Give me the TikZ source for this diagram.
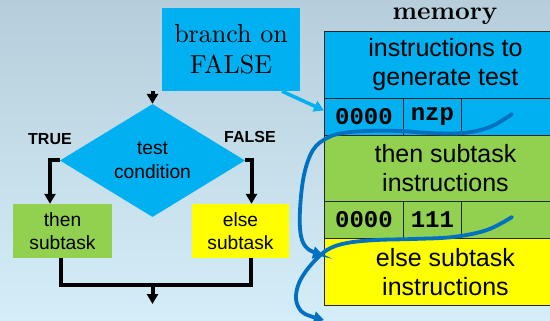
\documentclass[tikz,border=0pt]{standalone}
\usepackage{fontspec}
\setmainfont{lmroman10-regular.otf}[BoldFont=lmroman10-bold.otf]
\newfontfamily\arial{Liberation Sans}
\newfontfamily\cour{Liberation Mono}
\usetikzlibrary{arrows.meta,shapes.geometric}
\definecolor{bgtop}{RGB}{182,206,219}
\definecolor{bgbot}{RGB}{212,238,249}
\definecolor{cyanb}{RGB}{0,176,240}
\definecolor{greenb}{RGB}{146,208,80}
\definecolor{yellowb}{RGB}{255,255,0}
\definecolor{flowblue}{RGB}{0,112,192}
\begin{document}
\begin{tikzpicture}[x=1pt,y=-1pt,
  flowline/.style={line width=4pt,line join=miter},
  flow/.style={flowline,-{Triangle[width=11pt,length=10pt]}},
  cyanarrow/.style={line width=3.5pt,cyanb,-{Triangle[width=11pt,length=10pt]}},
  jumparrow/.style={line width=3.8pt,flowblue,line cap=round,-{Triangle[width=12pt,length=10pt]}},
  fbox/.style={draw=none,inner sep=0pt,align=center,font=\arial\fontsize{19.2}{23.5}\selectfont},
  tf/.style={inner sep=0pt,font=\arial\bfseries\fontsize{16}{16}\selectfont},
  memrow/.style={draw=black!85,line width=0.9pt,anchor=north west,minimum width=242pt,inner sep=0pt,align=center,font=\arial\fontsize{25}{29}\selectfont},
  cell/.style={draw=black!85,line width=0.9pt,anchor=north west,minimum height=37pt,inner sep=0pt,font=\cour\bfseries\fontsize{24}{24}\selectfont}
]
\useasboundingbox (0,0) rectangle (550,321);
\begin{scope}[y=1pt]
  \shade[top color=bgtop,bottom color=bgbot] (0,-321) rectangle (550,0);
\end{scope}
\clip (0,0) rectangle (550,321);

% memory
\node[inner sep=0pt,anchor=base,font=\bfseries\fontsize{25.6}{28}\selectfont] (memt) at (445,20) {memory};
\node[memrow,fill=cyanb,minimum height=67pt] (m1) at (324,31) {instructions to\\generate test};
\node[cell,fill=cyanb,minimum width=79pt] (c1) at (324,98) {0000};
\node[cell,fill=cyanb,minimum width=58pt] (c2) at (403,98) {nzp};
\node[cell,fill=cyanb,minimum width=105pt] (c3) at (461,98) {};
\node[memrow,fill=greenb,minimum height=66pt] (m3) at (324,135) {then subtask\\instructions};
\node[cell,fill=greenb,minimum width=79pt] (d1) at (324,201) {0000};
\node[cell,fill=greenb,minimum width=58pt] (d2) at (403,201) {111};
\node[cell,fill=greenb,minimum width=105pt] (d3) at (461,201) {};
\node[memrow,fill=yellowb,minimum height=67pt] (m5) at (324,238) {else subtask\\instructions};

% branch box
\node[fill=cyanb,minimum width=138pt,minimum height=83pt,inner sep=0pt,align=center,
  font=\fontsize{26}{31}\selectfont] (br) at (231,49.5) {branch on\\FALSE};

% flowchart
\node[diamond,fill=cyanb,minimum width=185pt,minimum height=95pt,inner sep=0pt,align=center,
  font=\arial\fontsize{19.2}{23.5}\selectfont] (dia) at (152.5,160.5) {test\\condition};
\node[fbox,fill=greenb,minimum width=99pt,minimum height=54pt] (then) at (62.5,231) {then\\subtask};
\node[fbox,fill=yellowb,minimum width=97pt,minimum height=54pt] (else) at (240.5,231) {else\\subtask};
\node[tf] (true) at (50,139) {TRUE};
\node[tf] (false) at (250,137) {FALSE};

\coordinate (in) at (152.5,91);
\coordinate (mg) at (152.5,285);
\coordinate (out) at (152.5,304);
\draw[flow] (in) -- (dia.north);
\draw[flow] (dia.west) -| ([xshift=-12.5pt]then.north);
\draw[flow] (dia.east) -| ([xshift=11pt]else.north);
\draw[flowline] ([xshift=-1.5pt]then.south) |- (mg) -| ([xshift=10pt]else.south);
\draw[flow] (mg) -- (out);

% cyan arrow
\draw[cyanarrow] ([xshift=51pt]br.south) -- ([yshift=6.5pt]c1.west);

% jump arrows
\coordinate (j1) at (512,114);
\coordinate (j2) at (512,217);
\draw[jumparrow] plot[smooth,tension=0.6] coordinates {(j1) (490,127) (463,133) (430,133) (400,131) (367,131) (343,133) (327,138) (313,150) (304,175) (300,210) (301,236) (308,249) (323,255)};
\draw[jumparrow] plot[smooth,tension=0.6] coordinates {(j2) (487,230) (453,237) (413,239) (377,240) (347,243) (327,250) (310,266) (299,283) (296,299) (301,311) (310,316) (324,320)};
\end{tikzpicture}
\end{document}
